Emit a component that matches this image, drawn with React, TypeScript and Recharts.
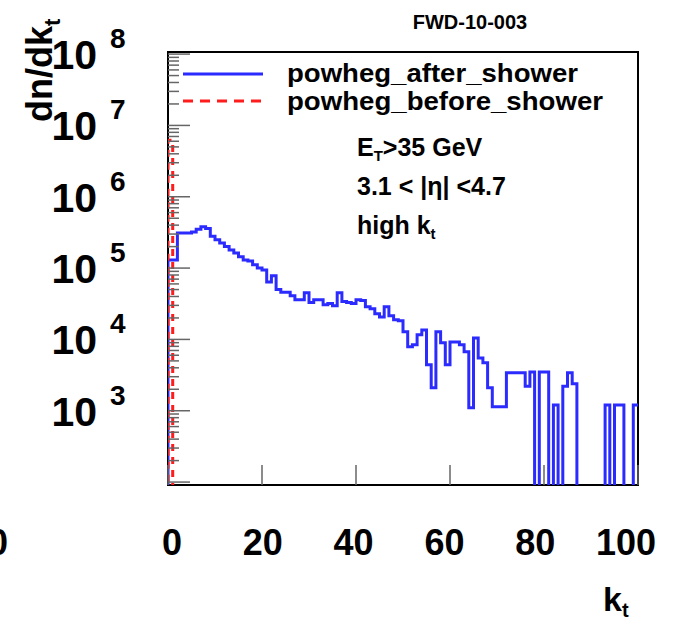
import React from 'react';
import { ComposedChart, Line, XAxis, YAxis, ReferenceArea } from 'recharts';

// ---- data ----
const binLowEdges = [
  0, 1, 2, 3, 4, 5, 6, 7, 8, 9, 10, 11, 12, 13, 14, 15, 16, 17, 18, 19,
  20, 21, 22, 23, 24, 25, 26, 27, 28, 29, 30, 31, 32, 33, 34, 35, 36, 37, 38, 39,
  40, 41, 42, 43, 44, 45, 46, 47, 48, 49, 50, 51, 52, 53, 54, 55, 56, 57, 58, 59,
  60, 61, 62, 63, 64, 65, 66, 67, 68, 69, 70, 71, 72, 73, 74, 75, 76, 77, 78, 79,
  80, 81, 82, 83, 84, 85, 86, 87, 88, 89, 90, 91, 92, 93, 94, 95, 96, 97, 98, 99,
];
const histUpperEdge = 100;

const powhegAfterShower = [
  130000, 130000, 310000, 310000, 310000, 320000, 350000, 380000, 360000, 280000,
  250000, 225000, 200000, 180000, 163000, 144000, 130000, 126000, 111000, 100000,
  94000, 64000, 78000, 50000, 46000, 46000, 41000, 36000, 36000, 45000,
  33000, 36000, 36000, 30500, 32000, 29600, 45000, 34000, 33000, 32000,
  36000, 35000, 28600, 26900, 22900, 20700, 28600, 21400, 18800, 18200,
  12800, 7900, 8400, 11600, 13600, 4400, 2100, 12800, 8950, 4400,
  9200, 9200, 8400, 6700, 1100, 10500, 5500, 4700, 2100, 1140,
  1140, 1140, 3400, 3400, 3400, 3400, 2200, 3500, 0, 3500,
  3500, 0, 1200, 0, 2200, 3400, 2400, 0, 0, 0,
  0, 0, 0, 1200, 0, 1200, 1200, 0, 0, 1200,
];

const powhegBeforeShower = [
  6200000, 0, 0, 0, 0, 0, 0, 0, 0, 0,
  0, 0, 0, 0, 0, 0, 0, 0, 0, 0,
  0, 0, 0, 0, 0, 0, 0, 0, 0, 0,
  0, 0, 0, 0, 0, 0, 0, 0, 0, 0,
  0, 0, 0, 0, 0, 0, 0, 0, 0, 0,
  0, 0, 0, 0, 0, 0, 0, 0, 0, 0,
  0, 0, 0, 0, 0, 0, 0, 0, 0, 0,
  0, 0, 0, 0, 0, 0, 0, 0, 0, 0,
  0, 0, 0, 0, 0, 0, 0, 0, 0, 0,
  0, 0, 0, 0, 0, 0, 0, 0, 0, 0,
];

const xTicks = [0, 20, 40, 60, 80, 100];
const yMajorExponents = [2, 3, 4, 5, 6, 7, 8];
const yLabelExponents = [3, 4, 5, 6, 7, 8];

const Y_MIN = 91;
const Y_MAX = 1.07e8;
const FLOOR = 1; // empty bins drawn below the frame (clipped)

// ---- chart table ----
const pos = (v: number) => (v > 0 ? v : FLOOR);
const data: { k: number; after: number; before: number }[] = [
  { k: binLowEdges[0], after: FLOOR, before: FLOOR },
];
binLowEdges.forEach((k, i) => {
  data.push({ k, after: pos(powhegAfterShower[i]), before: pos(powhegBeforeShower[i]) });
});
data.push({
  k: histUpperEdge,
  after: pos(powhegAfterShower[powhegAfterShower.length - 1]),
  before: pos(powhegBeforeShower[powhegBeforeShower.length - 1]),
});

const yTicks: number[] = [];
yMajorExponents.forEach((e) => {
  for (let m = 1; m <= 9; m++) {
    const v = m * Math.pow(10, e);
    if (v >= Y_MIN && v <= Y_MAX) yTicks.push(v);
  }
});

const FONT = '"Liberation Sans", Arial, Helvetica, sans-serif';

const PLOT_LEFT = 168;
const PLOT_W = 470;

const YTick = (props: any) => {
  const { x, y, payload } = props;
  const v = payload.value as number;
  const lg = Math.log10(v);
  const exp = Math.round(lg);
  const major = Math.abs(lg - exp) < 1e-6;
  const len = major ? 22 : 11;
  return (
    <g>
      <line x1={x} x2={x + len} y1={y} y2={y} stroke="#666" strokeWidth={1.5} />
      {major && yLabelExponents.includes(exp) && (
        <text fontFamily={FONT} fontWeight="bold" fill="#000">
          <tspan x={x - 71} y={y + 15} fontSize={41} textAnchor="end">10</tspan>
          <tspan x={x - 58} y={y - 6} fontSize={28}>{exp}</tspan>
        </text>
      )}
    </g>
  );
};

const XTick = (props: any) => {
  const { x, y, payload } = props;
  // labels in the reference sit slightly compressed towards the centre
  const lx = 172 + (x - PLOT_LEFT) * (454 / PLOT_W);
  return (
    <g>
      <line x1={x} x2={x} y1={y} y2={y - 20} stroke="#666" strokeWidth={1.5} />
      <text x={lx} y={y + 70} textAnchor="middle" fontFamily={FONT} fontWeight="bold" fontSize={36} fill="#000">
        {payload.value}
      </text>
    </g>
  );
};

const W = 674;
const H = 623;

export default function App() {
  return (
    <div style={{ position: 'absolute', left: 0, top: 0, width: W, height: H, background: '#fff' }}>
      <ComposedChart
        width={W}
        height={H}
        data={data}
        margin={{ top: 52, right: 36, bottom: 137, left: 167 }}
      >
        <XAxis
          dataKey="k"
          type="number"
          domain={[0, 100]}
          allowDataOverflow
          ticks={xTicks}
          interval={0}
          height={1}
          tickSize={0}
          tickMargin={0}
          axisLine={false}
          tickLine={false}
          tick={<XTick />}
        />
        <YAxis
          type="number"
          scale="log"
          domain={[Y_MIN, Y_MAX]}
          allowDataOverflow
          ticks={yTicks}
          interval={0}
          width={1}
          tickSize={0}
          tickMargin={0}
          axisLine={false}
          tickLine={false}
          tick={<YTick />}
        />
        <Line
          dataKey="after"
          type="stepAfter"
          stroke="#2b2bff"
          strokeWidth={3}
          dot={false}
          activeDot={false}
          isAnimationActive={false}
        />
        <Line
          dataKey="before"
          type="stepAfter"
          stroke="#ff1c1c"
          strokeWidth={3}
          strokeDasharray="7 6"
          dot={false}
          activeDot={false}
          isAnimationActive={false}
        />
        <ReferenceArea
          x1={0}
          x2={100}
          y1={Y_MIN}
          y2={Y_MAX}
          fill="none"
          fillOpacity={0}
          stroke="#000"
          strokeWidth={2}
          ifOverflow="visible"
        />
      </ComposedChart>
      <svg
        width={W}
        height={H}
        style={{ position: 'absolute', left: 0, top: 0, pointerEvents: 'none' }}
        fontFamily={FONT}
        fontWeight="bold"
      >
        <text x={470} y={29} textAnchor="middle" fontSize={20} fill="#000">FWD-10-003</text>

        <text transform="translate(52,122) rotate(-90)" fontSize={36} fill="#000">
          dn/dk<tspan fontSize={22} dy={8}>t</tspan>
        </text>

        <text x={-12} y={555} fontSize={36} fill="#000">0</text>

        <text x={603} y={611} fontSize={34} fill="#000">
          k<tspan fontSize={20} dy={6}>t</tspan>
        </text>

        <line x1={183} x2={263} y1={74} y2={74} stroke="#2b2bff" strokeWidth={3} />
        <line x1={183} x2={263} y1={101} y2={101} stroke="#ff1c1c" strokeWidth={3} strokeDasharray="10 7" />
        <text x={287} y={82} fontSize={26} fill="#000" textLength={291} lengthAdjust="spacingAndGlyphs">
          powheg_after_shower
        </text>
        <text x={287} y={110} fontSize={26} fill="#000" textLength={316} lengthAdjust="spacingAndGlyphs">
          powheg_before_shower
        </text>

        <text x={357} y={156} fontSize={25} fill="#000">
          E<tspan fontSize={15} dy={5}>T</tspan><tspan dy={-5}>&gt;35 GeV</tspan>
        </text>
        <text x={357} y={195} fontSize={25} fill="#000">3.1 &lt; |η| &lt;4.7</text>
        <text x={357} y={234} fontSize={25} fill="#000">
          high k<tspan fontSize={15} dy={5}>t</tspan>
        </text>
      </svg>
    </div>
  );
}
